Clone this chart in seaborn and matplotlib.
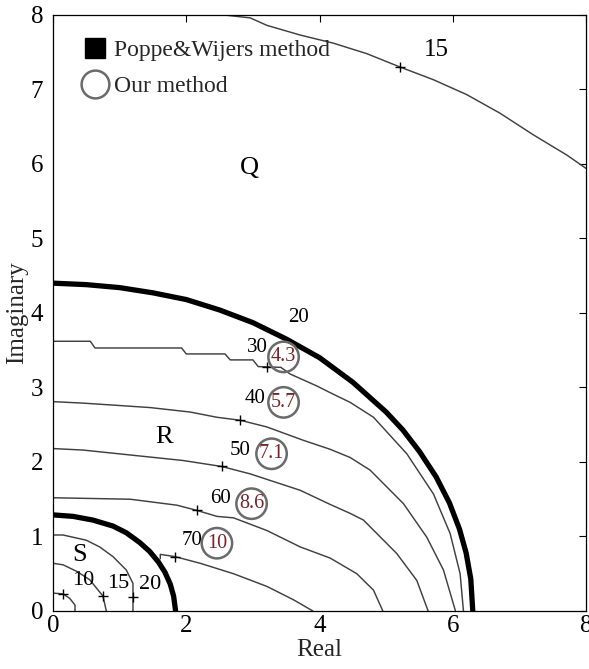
import numpy as np
import pandas as pd
import seaborn as sns
import matplotlib.pyplot as plt
from matplotlib.lines import Line2D

sns.set_theme(style="white")
plt.rcParams['font.family'] = ['Liberation Serif', 'DejaVu Serif']

# thick boundary arcs (Poppe & Wijers)
outer_x = [0, 0.5, 1.0, 1.5, 2.0, 2.5, 3.0, 3.5, 4.0, 4.5, 5.0, 5.25, 5.5, 5.75, 5.95, 6.1, 6.2, 6.27, 6.3]
outer_y = [4.40, 4.38, 4.34, 4.27, 4.18, 4.04, 3.87, 3.65, 3.40, 3.07, 2.67, 2.43, 2.14, 1.80, 1.45, 1.10, 0.78, 0.43, 0.0]
inner_x = [0, 0.3, 0.6, 0.9, 1.1, 1.3, 1.45, 1.58, 1.68, 1.76, 1.81, 1.84]
inner_y = [1.29, 1.27, 1.22, 1.14, 1.05, 0.92, 0.80, 0.66, 0.52, 0.36, 0.20, 0.0]

# thin contour lines
c30_x = [0, 0.56, 0.63, 1.93, 2.0, 2.58, 2.66, 3.0, 3.08, 3.42, 3.56, 3.96, 4.16, 4.46, 4.81, 5.31, 5.71, 5.96, 6.11, 6.16]
c30_y = [3.62, 3.62, 3.53, 3.53, 3.45, 3.45, 3.37, 3.37, 3.28, 3.27, 3.18, 3.02, 2.93, 2.80, 2.60, 2.11, 1.57, 1.04, 0.50, 0.0]
c40_x = [0, 0.45, 0.96, 1.46, 2.06, 2.46, 2.81, 3.21, 3.76, 4.16, 4.46, 4.76, 5.26, 5.61, 5.86, 6.04]
c40_y = [2.81, 2.79, 2.76, 2.73, 2.67, 2.60, 2.56, 2.47, 2.29, 2.17, 2.06, 1.89, 1.44, 0.99, 0.55, 0.0]
c50_x = [0, 0.45, 1.2, 1.95, 2.53, 2.96, 3.71, 4.16, 4.46, 4.66, 5.16, 5.46, 5.63]
c50_y = [2.18, 2.16, 2.09, 2.02, 1.94, 1.84, 1.62, 1.43, 1.31, 1.22, 0.77, 0.41, 0.0]
c60_x = [0, 1.16, 1.86, 2.16, 2.46, 2.71, 3.21, 3.71, 4.16, 4.56, 4.81, 4.95]
c60_y = [1.52, 1.50, 1.42, 1.35, 1.27, 1.25, 1.08, 0.86, 0.71, 0.50, 0.28, 0.0]
c70_x = [1.61, 1.61, 1.83, 2.21, 2.71, 3.21, 3.61, 3.90]
c70_y = [0.70, 0.76, 0.73, 0.64, 0.50, 0.33, 0.15, 0.0]
s20_x = [0, 0.15, 0.5, 0.70, 0.90, 1.10, 1.20, 1.20, 1.20]
s20_y = [1.02, 1.02, 0.95, 0.86, 0.73, 0.55, 0.37, 0.19, 0.0]
s15_x = [0, 0.15, 0.36, 0.55, 0.75, 0.80]
s15_y = [0.64, 0.62, 0.53, 0.42, 0.20, 0.0]
s10_x = [0, 0.15, 0.25, 0.33, 0.33]
s10_y = [0.24, 0.23, 0.17, 0.08, 0.0]
q15_x = [2.56, 2.96, 3.21, 3.71, 4.21, 4.71, 5.21, 5.71, 6.21, 6.71, 7.21, 7.71, 8.0]
q15_y = [8.0, 7.96, 7.86, 7.73, 7.62, 7.48, 7.30, 7.13, 6.93, 6.68, 6.39, 6.12, 5.94]

# "+" marks on contours
plus_x = [5.21, 3.21, 2.81, 2.53, 2.16, 1.83, 0.15, 0.75, 1.20]
plus_y = [7.30, 3.28, 2.56, 1.94, 1.35, 0.73, 0.23, 0.20, 0.19]

# contour labels
label_text = ["15", "20", "30", "40", "50", "60", "70", "10", "15", "20"]
label_x = [5.76, 3.68, 3.06, 3.03, 2.81, 2.51, 2.08, 0.46, 0.98, 1.46]
label_y = [7.53, 3.94, 3.54, 2.85, 2.15, 1.51, 0.95, 0.41, 0.37, 0.35]
label_size = [18, 15, 15, 15, 15, 15, 15, 16, 16, 16]

# our method values (circled)
our_text = ["4.3", "5.7", "7.1", "8.6", "10"]
our_x = [3.46, 3.46, 3.28, 2.98, 2.46]
our_y = [3.41, 2.80, 2.11, 1.44, 0.91]

region_text = ["Q", "R", "S"]
region_x = [2.95, 1.66, 0.40]
region_y = [5.95, 2.33, 0.75]

fig = plt.figure(figsize=(5.89, 6.69), dpi=100)
ax = fig.add_axes([0.090, 0.0867, 0.905, 0.891])

thin = [(c30_x, c30_y), (c40_x, c40_y), (c50_x, c50_y), (c60_x, c60_y), (c70_x, c70_y),
        (s20_x, s20_y), (s15_x, s15_y), (s10_x, s10_y), (q15_x, q15_y)]
for cx, cy in thin:
    sns.lineplot(x=cx, y=cy, sort=False, estimator=None, color='#404040', lw=1.05, ax=ax, legend=False)

for cx, cy in [(outer_x, outer_y), (inner_x, inner_y)]:
    sns.lineplot(x=cx, y=cy, sort=False, estimator=None, color='black', lw=3.8, ax=ax, legend=False)

ax.scatter(plus_x, plus_y, marker='+', s=60, color='black', linewidths=1.0, zorder=4)

for t, x, y, fs in zip(label_text, label_x, label_y, label_size):
    ax.text(x, y, t, fontsize=fs, ha='center', va='center', color='black')

ax.scatter(our_x, our_y, marker='o', s=480, facecolors='none', edgecolors='#6a6a6a', linewidths=1.8, zorder=5)
for t, x, y in zip(our_text, our_x, our_y):
    ax.text(x, y, t, fontsize=14.5, ha='center', va='center', color='#7a2226', zorder=6)

for t, x, y in zip(region_text, region_x, region_y):
    ax.text(x, y, t, fontsize=19, ha='center', va='center', color='black')

handles = [Line2D([], [], marker='s', color='black', linestyle='none', markersize=14),
           Line2D([], [], marker='o', markerfacecolor='none', markeredgecolor='#6a6a6a',
                  markeredgewidth=1.8, linestyle='none', markersize=20)]
ax.legend(handles, ["Poppe&Wijers method", "Our method"], loc='upper left',
          bbox_to_anchor=(0.0525, 0.958), frameon=False, fontsize=17, borderpad=0,
          borderaxespad=0, handlelength=1.2, handletextpad=0.2, labelspacing=0.6)

ax.set_xlim(0, 8)
ax.set_ylim(0, 8)
ax.set_xticks(np.arange(0, 9, 2))
ax.set_yticks(np.arange(0, 9, 1))
ax.tick_params(direction='in', top=True, right=True, length=5, width=0.8, labelsize=18, colors='black')
ax.tick_params(axis='x', pad=3)
ax.tick_params(axis='y', pad=7)
for sp in ax.spines.values():
    sp.set_color('black')
    sp.set_linewidth(0.9)
ax.set_xlabel("Real", fontsize=18, labelpad=1)
ax.set_ylabel("Imaginary", fontsize=18, labelpad=2)

fig.savefig("out.png", dpi=100)
